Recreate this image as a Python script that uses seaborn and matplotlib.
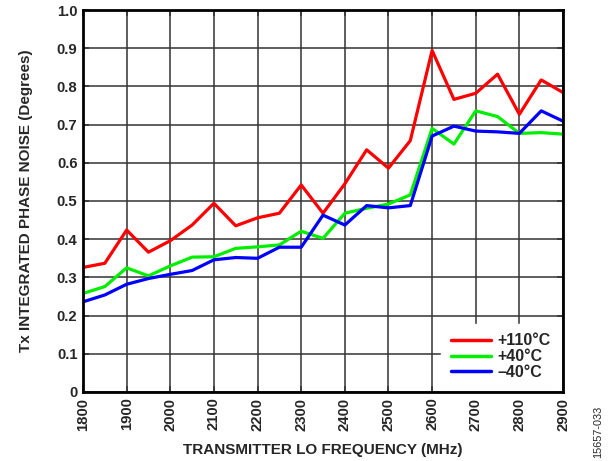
import numpy as np
import pandas as pd
import matplotlib
matplotlib.use("Agg")
import matplotlib.pyplot as plt
import seaborn as sns

freq_mhz = [1800, 1850, 1900, 1950, 2000, 2050, 2100, 2150, 2200, 2250, 2300, 2350,
            2400, 2450, 2500, 2550, 2600, 2650, 2700, 2750, 2800, 2850, 2900]
noise_110c = [0.326, 0.337, 0.424, 0.366, 0.396, 0.437, 0.494, 0.435, 0.456, 0.468, 0.542, 0.468,
              0.545, 0.634, 0.586, 0.658, 0.894, 0.766, 0.782, 0.832, 0.727, 0.817, 0.784]
noise_40c = [0.258, 0.276, 0.325, 0.304, 0.330, 0.353, 0.354, 0.376, 0.380, 0.385, 0.421, 0.402,
             0.468, 0.481, 0.492, 0.516, 0.690, 0.649, 0.736, 0.721, 0.677, 0.679, 0.675]
noise_m40c = [0.236, 0.254, 0.282, 0.297, 0.308, 0.318, 0.346, 0.352, 0.350, 0.379, 0.379, 0.463,
              0.437, 0.488, 0.482, 0.488, 0.670, 0.696, 0.683, 0.681, 0.677, 0.736, 0.709]
series_labels = ["+110°C", "+40°C", "\u201340°C"]
series_colors = ["#FF0000", "#00EE00", "#0000FF"]
x_ticks = list(range(1800, 2901, 100))
y_ticks = [0, 0.1, 0.2, 0.3, 0.4, 0.5, 0.6, 0.7, 0.8, 0.9, 1.0]
y_tick_labels = ["0", "0.1", "0.2", "0.3", "0.4", "0.5", "0.6", "0.7", "0.8", "0.9", "1.0"]

df = pd.concat([
    pd.DataFrame({"freq": freq_mhz, "noise": vals, "temp": lab})
    for vals, lab in zip([noise_110c, noise_40c, noise_m40c], series_labels)
], ignore_index=True)

sns.set_theme(style="white")
plt.rcParams["font.family"] = ["Liberation Sans", "DejaVu Sans"]
plt.rcParams["font.weight"] = "bold"

fig = plt.figure(figsize=(6.09, 4.61), dpi=100)
ax = fig.add_axes([0.1363, 0.1497, 0.7882, 0.8286])

sns.lineplot(data=df, x="freq", y="noise", hue="temp", hue_order=series_labels,
             palette=dict(zip(series_labels, series_colors)), linewidth=2.3, ax=ax,
             zorder=3)

ax.set_xlim(1800, 2900)
ax.set_ylim(0, 1.0)
ax.set_xticks(x_ticks)
ax.set_xticklabels([str(t) for t in x_ticks], rotation=90, fontsize=10.7, fontweight="bold")
ax.set_yticks(y_ticks)
ax.set_yticklabels(y_tick_labels, fontsize=10.7, fontweight="bold")
ax.grid(True, color="#333333", linewidth=1.1)
ax.tick_params(axis="both", direction="in", length=4, width=1.1, color="#333333",
               pad=4, bottom=True, left=True, top=True, right=True)
for s in ax.spines.values():
    s.set_color("black")
    s.set_linewidth(2.0)
    s.set_zorder(5)

ax.set_xlabel("TRANSMITTER LO FREQUENCY (MHz)", fontsize=11, fontweight="bold", labelpad=9)
ax.set_ylabel("Tx INTEGRATED PHASE NOISE (Degrees)", fontsize=11, fontweight="bold", labelpad=17)

leg = ax.legend(loc="lower right", frameon=True, fancybox=False, framealpha=1.0,
                edgecolor="white", facecolor="white", handlelength=2.5, handletextpad=0.45,
                labelspacing=0.05, borderpad=0.6, borderaxespad=0.15,
                prop={"size": 11.5, "weight": "bold"}, title=None)
leg.set_zorder(4)
for line in leg.get_lines():
    line.set_linewidth(2.5)

fig.text(0.982, 0.063, "15657-033", rotation=90, fontsize=7.8, fontweight="normal",
         ha="center", va="center")

fig.savefig("out.png", dpi=100)
